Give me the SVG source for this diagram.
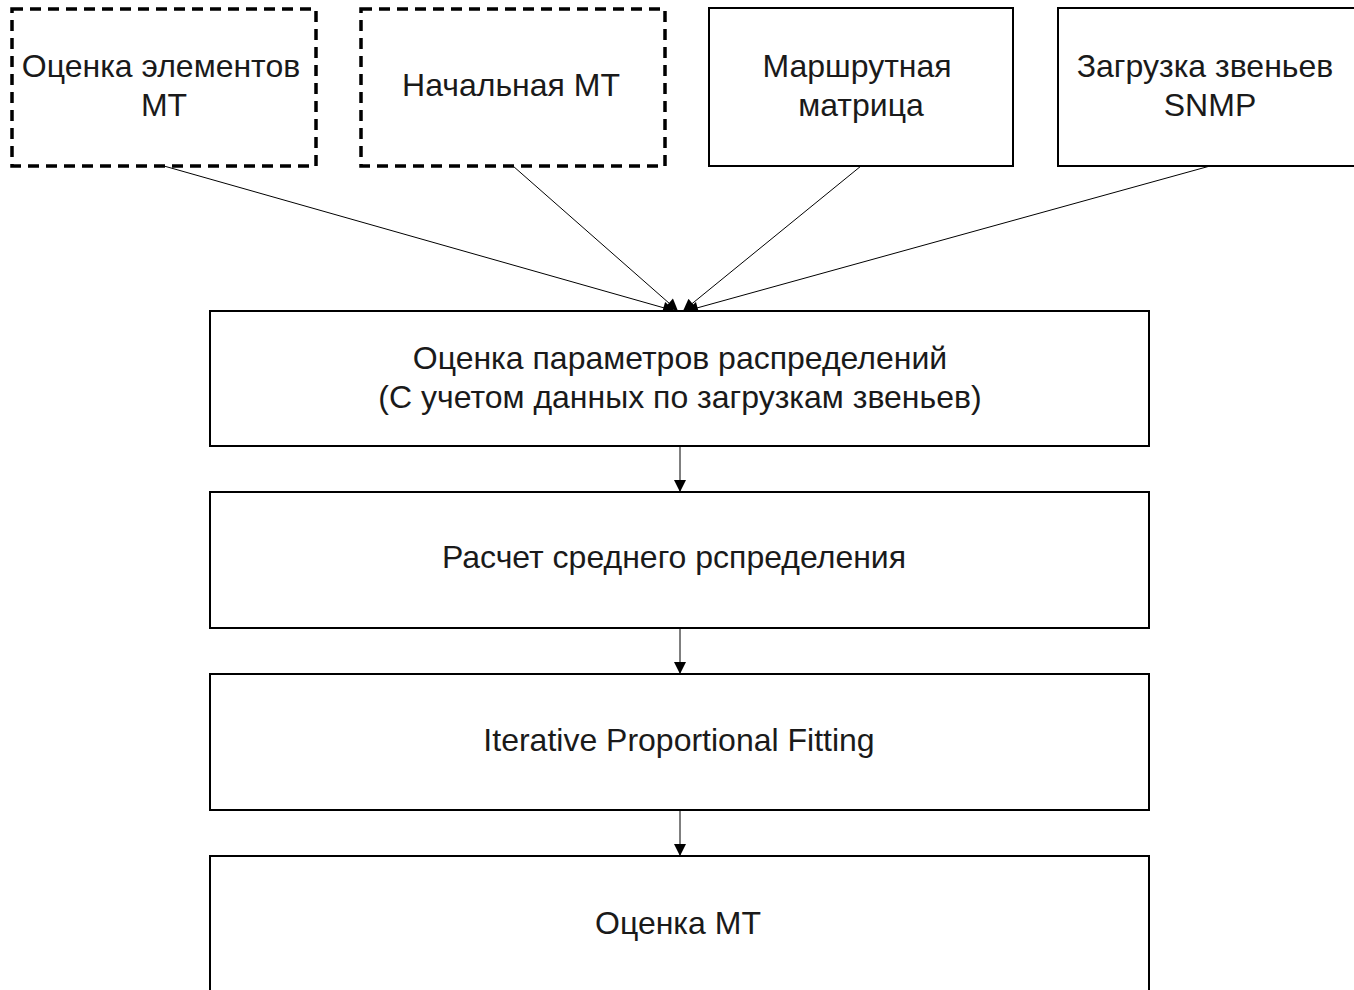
<svg xmlns="http://www.w3.org/2000/svg" width="1354" height="990" viewBox="0 0 1354 990">
<style>
.box{fill:#fff;stroke:#000;stroke-width:2}
.dash{fill:#fff;stroke:#000;stroke-width:3.5;stroke-dasharray:11 7}
text{font-family:"Liberation Sans",Arial,sans-serif;font-size:32px;fill:#1a1a1a;text-anchor:middle}
.c{stroke:#000;stroke-width:1;fill:none;marker-end:url(#ah)}
</style>
<defs>
<marker id="ah" viewBox="0 0 10 10" refX="10" refY="5" markerWidth="13" markerHeight="12" markerUnits="userSpaceOnUse" orient="auto">
<path d="M0,0 L10,5 L0,10 z" fill="#000"/>
</marker>
</defs>
<rect width="1354" height="990" fill="#fff"/>
<g id="connectors">
<line class="c" x1="164" y1="166" x2="675" y2="311"/>
<line class="c" x1="513" y1="166" x2="678" y2="311"/>
<line class="c" x1="861" y1="166" x2="683" y2="311"/>
<line class="c" x1="1210" y1="166" x2="686" y2="311"/>
<line class="c" x1="680" y1="446" x2="680" y2="492"/>
<line class="c" x1="680" y1="628" x2="680" y2="674"/>
<line class="c" x1="680" y1="810" x2="680" y2="856"/>
</g>
<g id="n1"><rect class="dash" x="12" y="9" width="304" height="157"/><text x="161" y="77">Оценка элементов</text><text x="164" y="116">МТ</text></g>
<g id="n2"><rect class="dash" x="361" y="9" width="304" height="157"/><text x="511" y="96">Начальная МТ</text></g>
<g id="n3"><rect class="box" x="709" y="8" width="304" height="158"/><text x="857" y="77">Маршрутная</text><text x="861" y="116">матрица</text></g>
<g id="n4"><rect class="box" x="1058" y="8" width="304" height="158"/><text x="1205" y="77">Загрузка звеньев</text><text x="1210" y="116">SNMP</text></g>
<g id="n5"><rect class="box" x="210" y="311" width="939" height="135"/><text x="680" y="369">Оценка параметров распределений</text><text x="680" y="408">(С учетом данных по загрузкам звеньев)</text></g>
<g id="n6"><rect class="box" x="210" y="492" width="939" height="136"/><text x="674" y="568">Расчет среднего рспределения</text></g>
<g id="n7"><rect class="box" x="210" y="674" width="939" height="136"/><text x="679" y="751">Iterative Proportional Fitting</text></g>
<g id="n8"><rect class="box" x="210" y="856" width="939" height="140"/><text x="678" y="934">Оценка МТ</text></g>
</svg>
